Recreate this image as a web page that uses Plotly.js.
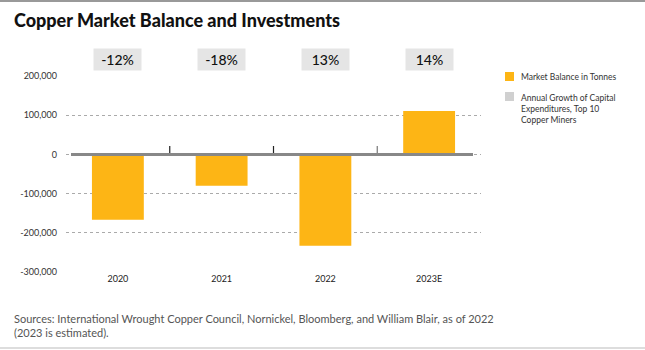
<!DOCTYPE html>
<html><head><meta charset="utf-8">
<script src="https://cdn.plot.ly/plotly-3.0.1.min.js"></script>
<style>html,body{margin:0;padding:0;background:#fff}#c{width:645px;height:350px}</style>
</head><body><div id="c"></div>
<script>
const categories = ['2020', '2021', '2022', '2023E'];
const marketBalance = [-167000, -80000, -233000, 111000];
const capexGrowth = ['-12%', '-18%', '13%', '14%'];
const yTickVals = [-300000, -200000, -100000, 0, 100000, 200000];
const yTickText = ['-300,000', '-200,000', '-100,000', '0', '100,000', '200,000'];
const seriesNames = ['Market Balance in Tonnes', 'Annual Growth of Capital<br>Expenditures, Top 10<br>Copper Miners'];
const seriesColors = ['#FDB515', '#D0D0D0'];

const W = 645, H = 350, L = 66, R = 164, T = 76, B = 78;
const pw = W - L - R, ph = H - T - B;
const px = x => (x - L) / pw;
const py = y => (H - B - y) / ph;

const traces = [
  {type: 'bar', x: categories, y: marketBalance, name: seriesNames[0],
   marker: {color: seriesColors[0]}, hoverinfo: 'skip', showlegend: false}
];

const annotations = capexGrowth.map((t, i) => ({
  x: i, xref: 'x', y: py(59.5), yref: 'paper', yanchor: 'middle', text: t, showarrow: false,
  font: {family: 'Lato, sans-serif', size: 14, color: '#111', weight: 500},
  bgcolor: '#E5E5E5', width: 46, height: 20, borderpad: 0.5
}));
annotations.push({
  x: px(12), xref: 'paper', y: py(20), yref: 'paper', xanchor: 'left', yanchor: 'middle',
  text: 'Copper Market Balance and Investments', showarrow: false,
  font: {family: 'Lato, sans-serif', size: 18, color: '#111', weight: 900}
});
annotations.push({
  x: px(12), xref: 'paper', y: py(325), yref: 'paper', xanchor: 'left', yanchor: 'middle',
  align: 'left', showarrow: false,
  text: 'Sources: International Wrought Copper Council, Nornickel, Bloomberg, and William Blair, as of 2022<br>(2023 is estimated).',
  font: {family: 'Lato, sans-serif', size: 11, color: '#555'}
});
// legend texts
annotations.push({
  x: px(519), xref: 'paper', y: py(76.5), yref: 'paper', xanchor: 'left', yanchor: 'middle',
  align: 'left', showarrow: false, text: seriesNames[0],
  font: {family: 'Lato, sans-serif', size: 8.5, color: '#333'}
});
annotations.push({
  x: px(519), xref: 'paper', y: py(91), yref: 'paper', xanchor: 'left', yanchor: 'top',
  align: 'left', showarrow: false, text: seriesNames[1],
  font: {family: 'Lato, sans-serif', size: 8.5, color: '#333'}
});

const shapes = [
  {type: 'line', xref: 'paper', yref: 'paper', x0: px(0), x1: px(645), y0: py(1), y1: py(1), line: {color: '#999', width: 2}},
  {type: 'line', xref: 'paper', yref: 'paper', x0: px(0), x1: px(645), y0: py(348), y1: py(348), line: {color: '#bbb', width: 1}},
  {type: 'line', xref: 'paper', yref: 'y', x0: px(71), x1: px(473), y0: 0, y1: 0, line: {color: '#888', width: 3}},
  {type: 'rect', xref: 'paper', yref: 'paper', x0: px(505), x1: px(514), y0: py(72), y1: py(81), fillcolor: seriesColors[0], line: {width: 0}},
  {type: 'rect', xref: 'paper', yref: 'paper', x0: px(505), x1: px(514), y0: py(92), y1: py(101), fillcolor: seriesColors[1], line: {width: 0}}
];
[0.5, 1.5, 2.5].forEach((x, i) => shapes.push({
  type: 'line', xref: 'x', yref: 'paper', x0: x, x1: x, y0: py(153), y1: py(146),
  line: {color: i === 2 ? '#777' : '#222', width: 1.2}
}));

const layout = {
  width: W, height: H, margin: {l: L, r: R, t: T, b: B, autoexpand: false},
  paper_bgcolor: '#fff', plot_bgcolor: '#fff',
  bargap: 0.5, showlegend: false,
  xaxis: {type: 'category', range: [-0.5, 3.5], showgrid: false, zeroline: false, showline: false,
          ticks: '', tickfont: {family: 'Lato, sans-serif', size: 9, color: '#222'}},
  yaxis: {range: [-300000, 200000], tickvals: yTickVals, ticktext: yTickText, zeroline: false,
          showgrid: true, gridcolor: '#aaa', griddash: 'dot', gridwidth: 1,
          tickfont: {family: 'Lato, sans-serif', size: 9, color: '#333'}, ticklabelstandoff: 8},
  annotations, shapes
};
Plotly.newPlot('c', traces, layout, {displayModeBar: false, staticPlot: true});
</script></body></html>
